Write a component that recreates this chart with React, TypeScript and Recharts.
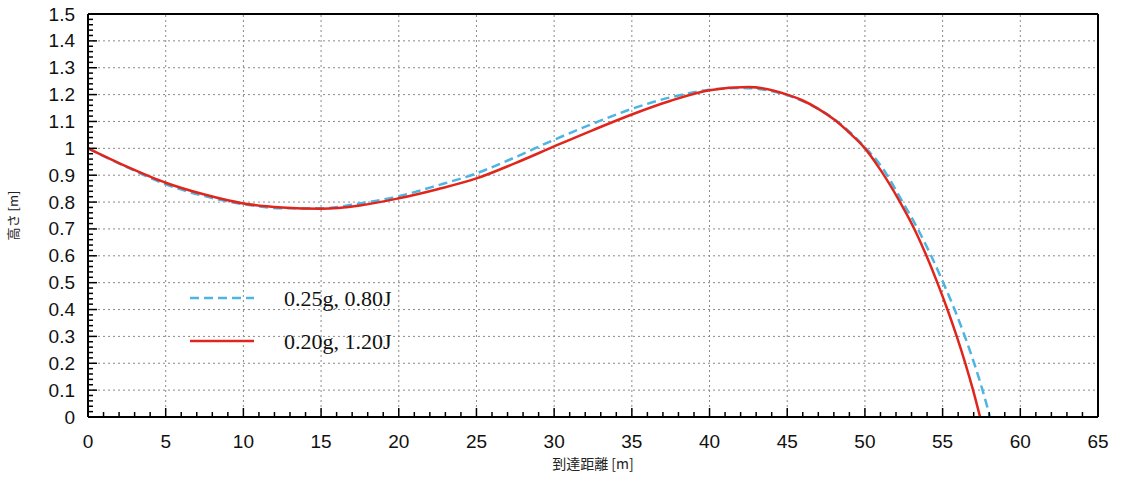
import React from "react"
import { LineChart, Line, XAxis, YAxis, ReferenceLine, Legend } from "recharts"

// 到達距離 [m] / 高さ [m]
const blueX = [0, 2.5, 5, 7.5, 10, 12.5, 15, 17.5, 20, 22.5, 25, 27.5, 30, 32.5, 35, 37.5, 40, 42, 45, 46, 47, 48, 49, 50, 51, 52.43, 53.4, 54.26, 55.04, 55.77, 56.43, 57.03, 57.57, 58.05]
const blueY = [1.0, 0.93, 0.866, 0.822, 0.792, 0.777, 0.777, 0.795, 0.822, 0.862, 0.907, 0.967, 1.032, 1.092, 1.147, 1.19, 1.218, 1.225, 1.198, 1.176, 1.147, 1.11, 1.062, 1.004, 0.937, 0.8, 0.7, 0.6, 0.5, 0.4, 0.3, 0.2, 0.1, 0]

const redX = [0, 2.5, 5, 7.5, 10, 12.5, 15, 17.5, 20, 22.5, 25, 27.5, 30, 32.5, 35, 37.5, 40, 42.5, 45, 46, 47, 48, 49, 50, 51, 52.26, 53.18, 53.96, 54.66, 55.31, 55.91, 56.46, 56.96, 57.41]
const redY = [1.0, 0.932, 0.872, 0.828, 0.795, 0.78, 0.775, 0.787, 0.814, 0.848, 0.888, 0.945, 1.007, 1.068, 1.126, 1.177, 1.216, 1.228, 1.2, 1.178, 1.147, 1.108, 1.058, 1.0, 0.92, 0.8, 0.7, 0.6, 0.5, 0.4, 0.3, 0.2, 0.1, 0]

const xMajorTicks = [0, 5, 10, 15, 20, 25, 30, 35, 40, 45, 50, 55, 60, 65]
const yMajorTicks = [0, 0.1, 0.2, 0.3, 0.4, 0.5, 0.6, 0.7, 0.8, 0.9, 1, 1.1, 1.2, 1.3, 1.4, 1.5]
const xMinorStep = 1
const yMinorStep = 0.02

const series = [
  { name: "0.25g, 0.80J", color: "#4db4e4", dash: "9 5", data: blueX.map((x, i) => ({ x, y: blueY[i] })) },
  { name: "0.20g, 1.20J", color: "#e0261c", dash: undefined as string | undefined, data: redX.map((x, i) => ({ x, y: redY[i] })) },
]

const xAll: number[] = []
for (let i = 0; i <= Math.round(65 / xMinorStep); i++) xAll.push(Math.round(i * xMinorStep * 100) / 100)
const yAll: number[] = []
for (let i = 0; i <= Math.round(1.5 / yMinorStep); i++) yAll.push(Math.round(i * yMinorStep * 100) / 100)

const isMajor = (v: number, majors: number[]) => majors.some(m => Math.abs(m - v) < 1e-6)

const tickFont = "'Liberation Sans', Arial, sans-serif"
const MAJ = 9
const MIN = 5

const BottomTick = (props: any) => {
  const { x, y, payload } = props
  const major = isMajor(payload.value, xMajorTicks)
  return (
    <g>
      <line x1={x} x2={x} y1={y} y2={y - (major ? MAJ : MIN)} stroke="#000" strokeWidth={1.5} />
      {major && (
        <text x={x} y={y + 24} textAnchor="middle" dominantBaseline="central" fontSize={19} fontFamily={tickFont} fill="#111">
          {payload.value}
        </text>
      )}
    </g>
  )
}

const TopTick = (props: any) => {
  const { x, y, payload } = props
  const major = isMajor(payload.value, xMajorTicks)
  return <line x1={x} x2={x} y1={y} y2={y + (major ? MAJ : MIN)} stroke="#000" strokeWidth={1.5} />
}

const LeftTick = (props: any) => {
  const { x, y, payload } = props
  const major = isMajor(payload.value, yMajorTicks)
  return (
    <g>
      <line x1={x} x2={x + (major ? MAJ : MIN)} y1={y} y2={y} stroke="#000" strokeWidth={1.5} />
      {major && (
        <text x={x - 13} y={y} textAnchor="end" dominantBaseline="central" fontSize={19} fontFamily={tickFont} fill="#111">
          {String(Number(payload.value.toFixed(1)))}
        </text>
      )}
    </g>
  )
}

const RightTick = (props: any) => {
  const { x, y, payload } = props
  const major = isMajor(payload.value, yMajorTicks)
  return <line x1={x} x2={x - (major ? MAJ : MIN)} y1={y} y2={y} stroke="#000" strokeWidth={1.5} />
}

const LegendBox = () => (
  <svg width={230} height={70}>
    {series.map((s, i) => (
      <g key={s.name}>
        <line x1={2} x2={66} y1={12 + i * 43} y2={12 + i * 43} stroke={s.color} strokeWidth={2.5} strokeDasharray={s.dash} />
        <text x={96} y={12 + i * 43} dominantBaseline="central" fontSize={22} fontFamily="'Liberation Serif', 'Times New Roman', serif" fill="#111">
          {s.name}
        </text>
      </g>
    ))}
  </svg>
)

export default function App() {
  return (
    <div style={{ position: "absolute", left: 0, top: 0, background: "#fff" }}>
      <LineChart width={1138} height={496} margin={{ top: 13, right: 39, left: 8, bottom: 27 }}>
        <XAxis
          dataKey="x"
          type="number"
          domain={[0, 65]}
          ticks={xAll}
          interval={0}
          tickSize={0}
          tickMargin={0}
          tick={<BottomTick />}
          tickLine={false}
          axisLine={{ stroke: "#000", strokeWidth: 2 }}
          height={52}
          label={{ value: "到達距離 [m]", position: "insideBottom", offset: 0, fontSize: 14, fill: "#222", fontFamily: "'Noto Sans CJK JP', sans-serif" }}
        />
        <XAxis
          xAxisId="top"
          orientation="top"
          type="number"
          domain={[0, 65]}
          ticks={xAll}
          interval={0}
          tickSize={0}
          tickMargin={0}
          tick={<TopTick />}
          tickLine={false}
          axisLine={{ stroke: "#000", strokeWidth: 2 }}
          height={1}
        />
        <YAxis
          type="number"
          domain={[0, 1.5]}
          ticks={yAll}
          interval={0}
          tickSize={0}
          tickMargin={0}
          tick={<LeftTick />}
          tickLine={false}
          axisLine={{ stroke: "#000", strokeWidth: 2 }}
          width={80}
          label={{
            value: "高さ [m]",
            angle: -90,
            position: "insideLeft",
            offset: 5,
            fontSize: 13,
            fill: "#222",
            fontFamily: "'Noto Sans CJK JP', sans-serif",
            style: { textAnchor: "middle" },
          }}
        />
        <YAxis
          yAxisId="right"
          orientation="right"
          type="number"
          domain={[0, 1.5]}
          ticks={yAll}
          interval={0}
          tickSize={0}
          tickMargin={0}
          tick={<RightTick />}
          tickLine={false}
          axisLine={{ stroke: "#000", strokeWidth: 2 }}
          width={1}
        />
        {xMajorTicks.slice(1, -1).map(v => (
          <ReferenceLine key={"vx" + v} x={v} stroke="#8a8a8a" strokeWidth={1} strokeDasharray="2 3" />
        ))}
        {yMajorTicks.slice(1, -1).map(v => (
          <ReferenceLine key={"hy" + v} y={v} stroke="#8a8a8a" strokeWidth={1} strokeDasharray="2 3" />
        ))}
        <Legend
          layout="horizontal"
          verticalAlign="middle"
          align="center"
          content={<LegendBox />}
          wrapperStyle={{ left: 188, top: 286, width: 230, height: 70 }}
        />
        {series.map(s => (
          <Line
            key={s.name}
            name={s.name}
            data={s.data}
            dataKey="y"
            type="monotone"
            stroke={s.color}
            strokeWidth={2.5}
            strokeDasharray={s.dash}
            dot={false}
            activeDot={false}
            isAnimationActive={false}
          />
        ))}
      </LineChart>
    </div>
  )
}
